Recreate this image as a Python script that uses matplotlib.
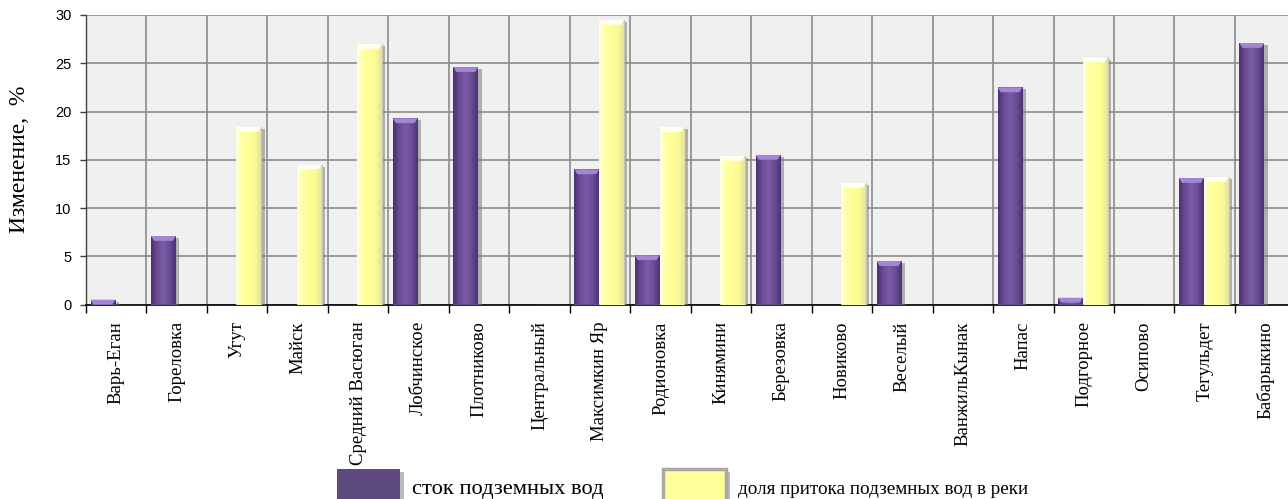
import numpy as np
import matplotlib
matplotlib.use("Agg")
import matplotlib.pyplot as plt
from matplotlib.colors import LinearSegmentedColormap
from matplotlib.patches import Patch, Polygon
import matplotlib.patheffects as pe

# --- data -------------------------------------------------------------
stations = ["Варь-Еган", "Гореловка", "Угут", "Майск", "Средний Васюган",
            "Лобчинское", "Плотниково", "Центральный", "Максимкин Яр",
            "Родионовка", "Кинямини", "Березовка", "Новиково", "Веселый",
            "ВанжильКынак", "Напас", "Подгорное", "Осипово", "Тегульдет",
            "Бабарыкино"]
groundwater_runoff = [0.5, 7.1, 0, 0, 0, 19.3, 24.6, 0, 14.0, 5.1,
                      0, 15.5, 0, 4.5, 0, 22.5, 0.7, 0, 13.1, 27.1]
inflow_share = [0, 0, 18.4, 14.5, 27.0, 0, 0, 0, 29.5, 18.4,
                15.4, 0, 12.6, 0, 0, 0, 25.6, 0, 13.2, 0]
y_ticks = [0, 5, 10, 15, 20, 25, 30]
series_names = ["сток подземных вод", "доля притока подземных вод в реки"]
y_title = "Изменение,  %"

# --- figure -----------------------------------------------------------
fig = plt.figure(figsize=(12.88, 4.99), dpi=100)
ax = fig.add_axes([86 / 1288, 1 - 304.5 / 499, 1209.4 / 1288, 289.5 / 499])
ax.set_facecolor("#f0f0f0")
ax.set_axisbelow(True)

x = np.arange(len(stations))
bw = 0.41
purple_off, yellow_off = -0.22, 0.19

purple_cmap = LinearSegmentedColormap.from_list(
    "purple_body", ["#4a3170", "#6a4d96", "#7a5ba7", "#6a4d95", "#4b3273"])
yellow_cmap = LinearSegmentedColormap.from_list(
    "yellow_body", ["#ffffe6", "#ffff9e", "#ffff99", "#fbfb94", "#e2e2a0"])
grad = np.linspace(0, 1, 64).reshape(1, -1)

shadow = [pe.SimplePatchShadow(offset=(2.5, -1.5), shadow_rgbFace="#7a7a7a",
                               alpha=0.55), pe.Normal()]

purple_bars = ax.bar(x + purple_off, groundwater_runoff, width=bw,
                     color="#664c90", linewidth=0, zorder=3,
                     path_effects=shadow)
yellow_bars = ax.bar(x + yellow_off, inflow_share, width=bw,
                     color="#ffff99", edgecolor="#c4c4b0", linewidth=0.8,
                     zorder=3, path_effects=shadow)


def shade(bars, cmap, cap_color):
    for b in bars:
        h = b.get_height()
        if h <= 0:
            continue
        x0, w = b.get_x(), b.get_width()
        im = ax.imshow(grad, cmap=cmap, aspect="auto", interpolation="bilinear",
                       extent=(x0, x0 + w, 0, h), zorder=4)
        im.set_clip_path(b)
        cap = min(0.5, h)
        d = w * 0.12
        ax.add_patch(Polygon([(x0, h), (x0 + w, h), (x0 + w - d, h - cap),
                              (x0 + d, h - cap)], closed=True,
                             facecolor=cap_color, edgecolor="none", zorder=5))


shade(purple_bars, purple_cmap, "#a485d6")
shade(yellow_bars, yellow_cmap, "#fffff2")

ax.set_xlim(-0.5, len(stations) - 0.5)
ax.set_ylim(0, 30)

# axes styling
ax.set_yticks(y_ticks)
ax.set_yticklabels([str(v) for v in y_ticks], fontfamily="Liberation Sans",
                   fontsize=10.5)
ax.tick_params(axis="y", length=4.5, width=1, color="#404040", pad=6)
ax.set_xticks(x)
ax.set_xticklabels(stations, rotation=90, fontfamily="Liberation Serif",
                   fontsize=13.5, va="top", ha="center")
ax.tick_params(axis="x", which="major", length=0, pad=12)
ax.set_xticks(np.arange(len(stations)) - 0.5, minor=True)
ax.tick_params(axis="x", which="minor", length=6, width=1, color="black",
               direction="out")

ax.grid(True, axis="y", color="#8c8c8c", linewidth=1.2)
ax.grid(True, axis="x", which="minor", color="#8c8c8c", linewidth=1.2)
ax.grid(False, axis="x", which="major")

for side in ("top", "right"):
    ax.spines[side].set_visible(False)
ax.spines["left"].set_color("#404040")
ax.spines["bottom"].set_color("black")
ax.spines["left"].set_linewidth(1)
ax.spines["bottom"].set_linewidth(1.2)

ax.set_ylabel(y_title, fontfamily="Liberation Serif", fontsize=17)
ax.yaxis.set_label_coords(-0.0465, 0.5)

# legend below the plot
legend_shadow = [pe.SimplePatchShadow(offset=(3, -2), shadow_rgbFace="#777777",
                                      alpha=0.5), pe.Normal()]
handles = [
    Patch(facecolor="#5f4a7e", edgecolor="none", path_effects=legend_shadow),
    Patch(facecolor="#ffff99", edgecolor="#a8a8a8", linewidth=2.5,
          path_effects=legend_shadow),
]
leg = fig.legend(handles, series_names, loc="upper left",
                 bbox_to_anchor=(337 / 1288, 1 - 469 / 499), ncol=2,
                 frameon=False, borderpad=0, borderaxespad=0,
                 handlelength=2.8, handleheight=2.1, handletextpad=0.55,
                 columnspacing=2.6,
                 prop={"family": "Liberation Serif", "size": 16.2})
leg.get_texts()[1].set_fontsize(13.8)

fig.savefig("out.png", dpi=100)
